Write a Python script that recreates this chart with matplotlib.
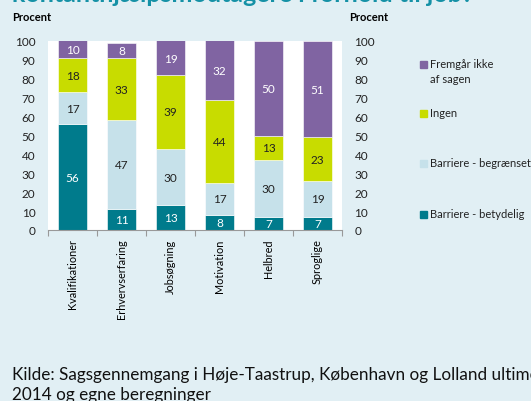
import numpy as np
import matplotlib.pyplot as plt
from matplotlib.patches import Rectangle

plt.rcParams['font.family'] = ['Lato', 'DejaVu Sans']

# Data (percent)
categories = ['Kvalifikationer', 'Erhvervserfaring', 'Jobsøgning', 'Motivation', 'Helbred', 'Sproglige']
series_names = ['Barriere - betydelig', 'Barriere - begrænset', 'Ingen', 'Fremgår ikke\naf sagen']
betydelig = [56, 11, 13, 8, 7, 7]
begraenset = [17, 47, 30, 17, 30, 19]
ingen = [18, 33, 39, 44, 13, 23]
fremgaar = [10, 8, 19, 32, 50, 51]

colors = ['#007b8c', '#c6e1ea', '#c8dc00', '#8064a2']
label_colors = ['white', '#222222', '#222222', 'white']
bg = '#e1eff4'

W, H = 531, 402
fig = plt.figure(figsize=(W / 100, H / 100), dpi=100)
fig.patch.set_facecolor(bg)

def px(x0, y0, x1, y1):
    return [x0 / W, 1 - y1 / H, (x1 - x0) / W, (y1 - y0) / H]

ax = fig.add_axes(px(48, 42, 342, 231))
ax.set_facecolor('white')

x = np.arange(len(categories))
bottom = np.zeros(len(categories))
for vals, c, lc in zip([betydelig, begraenset, ingen, fremgaar], colors, label_colors):
    bars = ax.bar(x, vals, 0.6, bottom=bottom, color=c, edgecolor='white', linewidth=0.4)
    ax.bar_label(bars, labels=[str(v) for v in vals], label_type='center', color=lc, fontsize=8.5)
    bottom += vals

ax.set_xlim(-0.5, len(categories) - 0.5)
ax.set_ylim(0, 100)
ax.set_yticks(range(0, 101, 10))
ax.tick_params(axis='y', length=0, pad=9, labelsize=8.5, colors='#222222')
ax.set_xticks(x)
ax.set_xticklabels(categories, rotation=90, fontsize=7.8)
ax.set_xticks(np.arange(-0.5, len(categories)), minor=True)
ax.tick_params(axis='x', which='major', length=0, pad=6)
ax.tick_params(axis='x', which='minor', length=4, color='#999999', width=0.8)
for s in ['top', 'left', 'right']:
    ax.spines[s].set_visible(False)
ax.spines['bottom'].set_color('#999999')
ax.spines['bottom'].set_linewidth(0.8)

ax2 = ax.twinx()
ax2.set_ylim(0, 100)
ax2.set_yticks(range(0, 101, 10))
ax2.tick_params(axis='y', length=0, pad=9, labelsize=8.5, colors='#222222')
for s in ax2.spines.values():
    s.set_visible(False)

# Legend, drawn by hand to follow the spread-out layout
leg_y = [65, 114, 164, 215]
for name, c, y in zip(series_names[::-1], colors[::-1], leg_y):
    fig.patches.append(Rectangle((420 / W, 1 - (y + 4) / H), 7 / W, 7 / H,
                                 transform=fig.transFigure, color=c))
    fig.text(430 / W, 1 - (y - 6) / H, name, fontsize=8, va='top',
             color='#222222', linespacing=1.45)

fig.text(12 / W, 1 - 21 / H, 'Procent', fontsize=8, fontweight='bold')
fig.text(349 / W, 1 - 21 / H, 'Procent', fontsize=8, fontweight='bold')

fig.text(12 / W, 1 - 2 / H, 'kontanthjælpsmodtagere i forhold til job?',
         fontsize=18, fontweight='bold', color='#1591a6', va='baseline')

fig.text(12 / W, 1 - 380 / H, 'Kilde: Sagsgennemgang i Høje-Taastrup, København og Lolland ultimo',
         fontsize=12.3, color='#111111', va='baseline')
fig.text(12 / W, 1 - 400 / H, '2014 og egne beregninger',
         fontsize=12.3, color='#111111', va='baseline')

fig.savefig('out.png', dpi=100, facecolor=bg)
